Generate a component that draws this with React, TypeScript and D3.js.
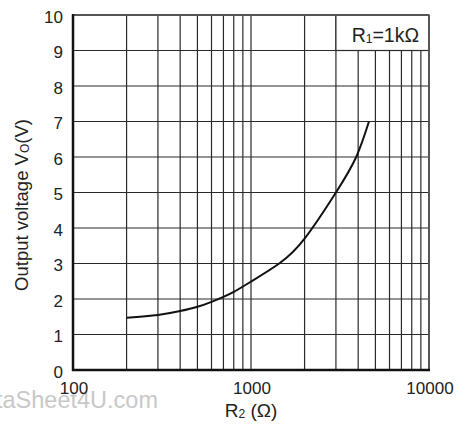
import React, { useRef, useEffect } from "react";
import * as d3 from "d3";

// curve: R2 in ohms, Vo in volts
const r2Values = [200, 300, 400, 500, 600, 700, 800, 1000, 1440, 2000, 3000, 3900, 4600];
const voValues = [1.47, 1.55, 1.66, 1.78, 1.92, 2.06, 2.2, 2.49, 3.0, 3.7, 5.0, 6.0, 7.0];
const xMajorTicks = [100, 1000, 10000];
const yTicks = [0, 1, 2, 3, 4, 5, 6, 7, 8, 9, 10];

const App = () => {
  const svgRef = useRef<SVGSVGElement>(null);

  useEffect(() => {
    const svg = d3.select(svgRef.current);
    svg.selectAll("*").remove();

    const left = 73, right = 429, top = 15, bottom = 370;
    const font = "'Liberation Sans', Arial, sans-serif";

    const x = d3.scaleLog().domain([100, 10000]).range([left, right]);
    const y = d3.scaleLinear().domain([0, 10]).range([bottom, top]);

    // minor + major vertical grid lines
    const xGrid: number[] = [];
    for (let dec = 100; dec < 10000; dec *= 10) {
      for (let k = 2; k <= 9; k++) xGrid.push(dec * k);
    }
    xGrid.push(1000);

    const g = svg.append("g");

    // watermark sits under everything
    g.append("text")
      .attr("x", 158)
      .attr("y", 408)
      .attr("text-anchor", "end")
      .attr("font-family", font)
      .attr("font-size", 23.5)
      .attr("fill", "#c8c8c8")
      .text("DataSheet4U.com");

    g.selectAll(".vgrid")
      .data(xGrid)
      .enter()
      .append("line")
      .attr("x1", (d) => x(d))
      .attr("x2", (d) => x(d))
      .attr("y1", top)
      .attr("y2", bottom)
      .attr("stroke", "#2a2a2a")
      .attr("stroke-width", 1.2);

    g.selectAll(".hgrid")
      .data(yTicks)
      .enter()
      .append("line")
      .attr("x1", left)
      .attr("x2", right)
      .attr("y1", (d) => y(d))
      .attr("y2", (d) => y(d))
      .attr("stroke", "#2a2a2a")
      .attr("stroke-width", 1.2);

    // legend box covers the grid in the top right cell
    g.append("rect")
      .attr("x", x(3000))
      .attr("y", y(10))
      .attr("width", right - x(3000))
      .attr("height", y(9) - y(10))
      .attr("fill", "white")
      .attr("stroke", "#2a2a2a")
      .attr("stroke-width", 1.2);

    const legend = g
      .append("text")
      .attr("x", 419)
      .attr("y", 41.5)
      .attr("text-anchor", "end")
      .attr("font-family", font)
      .attr("font-size", 19.5)
      .attr("fill", "#222");
    legend.append("tspan").text("R");
    legend.append("tspan").attr("font-size", 12).attr("dy", 1).text("1");
    legend.append("tspan").attr("dy", -1).text("=1kΩ");

    // frame
    g.append("line").attr("x1", left).attr("x2", right).attr("y1", top).attr("y2", top)
      .attr("stroke", "#555").attr("stroke-width", 2);
    g.append("line").attr("x1", right).attr("x2", right).attr("y1", top).attr("y2", bottom)
      .attr("stroke", "#555").attr("stroke-width", 2);
    g.append("line").attr("x1", left).attr("x2", left).attr("y1", top - 1).attr("y2", bottom + 1)
      .attr("stroke", "#111").attr("stroke-width", 2.5);
    g.append("line").attr("x1", left - 1).attr("x2", right + 1).attr("y1", bottom).attr("y2", bottom)
      .attr("stroke", "#111").attr("stroke-width", 2.5);

    // curve
    const pts = r2Values.map((r, i) => [r, voValues[i]] as [number, number]);
    const line = d3
      .line<[number, number]>()
      .x((d) => x(d[0]))
      .y((d) => y(d[1]))
      .curve(d3.curveNatural);
    g.append("path")
      .attr("d", line(pts))
      .attr("fill", "none")
      .attr("stroke", "#111")
      .attr("stroke-width", 2);

    // tick labels
    g.selectAll(".ylab")
      .data(yTicks)
      .enter()
      .append("text")
      .attr("x", 63)
      .attr("y", (d) => y(d) + 7.5)
      .attr("text-anchor", "end")
      .attr("font-family", font)
      .attr("font-size", 17)
      .attr("fill", "#222")
      .text((d) => d);

    g.selectAll(".xlab")
      .data(xMajorTicks)
      .enter()
      .append("text")
      .attr("x", (d) => x(d) + 1)
      .attr("y", 393.5)
      .attr("text-anchor", "middle")
      .attr("font-family", font)
      .attr("font-size", 17)
      .attr("fill", "#222")
      .text((d) => d);

    // axis titles
    const xt = g
      .append("text")
      .attr("x", 251)
      .attr("y", 417)
      .attr("text-anchor", "middle")
      .attr("font-family", font)
      .attr("font-size", 19)
      .attr("fill", "#222");
    xt.append("tspan").text("R");
    xt.append("tspan").attr("font-size", 12).attr("dy", 1).text("2");
    xt.append("tspan").attr("dy", -1).text(" (Ω)");

    const yt = g
      .append("text")
      .attr("transform", "translate(28,205) rotate(-90)")
      .attr("text-anchor", "middle")
      .attr("font-family", font)
      .attr("font-size", 18.5)
      .attr("fill", "#222");
    yt.append("tspan").text("Output voltage V");
    yt.append("tspan").attr("font-size", 12).attr("dy", 1).text("O");
    yt.append("tspan").attr("dy", -1).text("(V)");
  }, []);

  return (
    <svg
      ref={svgRef}
      width={458}
      height={434}
      style={{ position: "absolute", left: 0, top: 0, background: "white" }}
    />
  );
};

export default App;
